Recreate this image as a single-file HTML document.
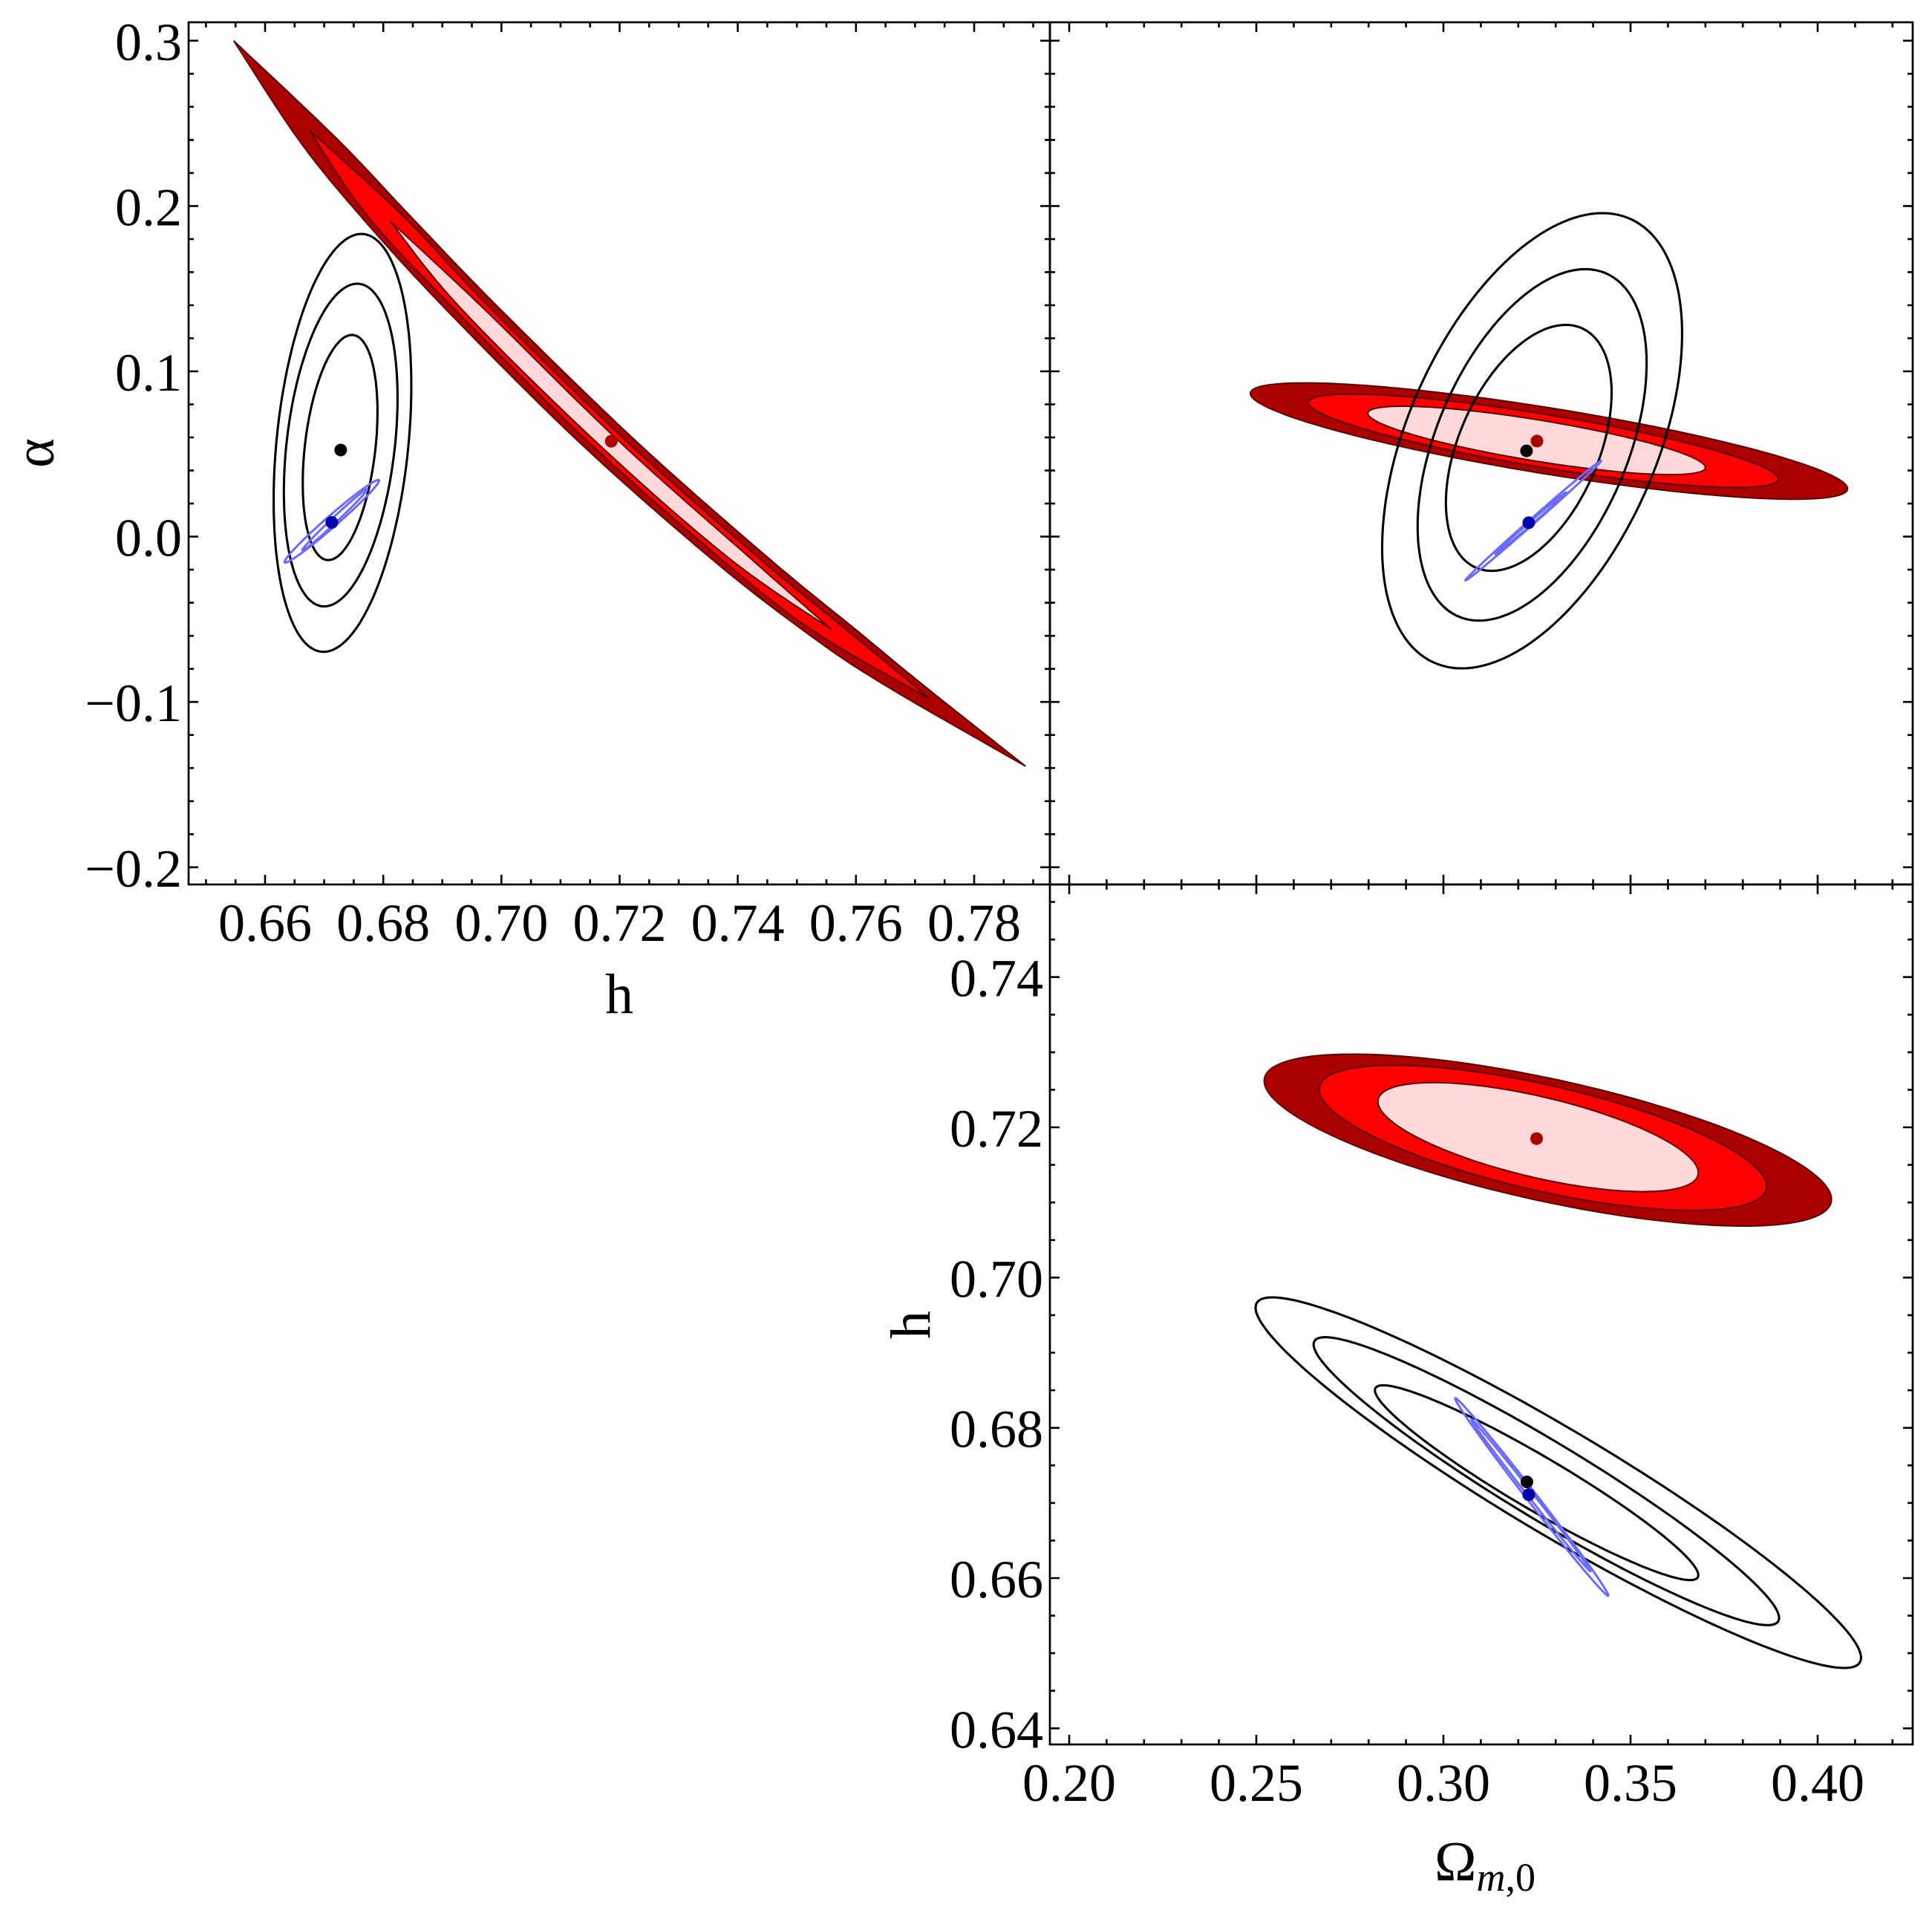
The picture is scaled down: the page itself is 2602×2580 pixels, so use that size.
<!DOCTYPE html>
<html><head><meta charset="utf-8"><style>
html,body{margin:0;padding:0;background:#fff;}
svg{display:block;font-family:"Liberation Serif","DejaVu Serif",serif;}
</style></head><body>
<svg id="fig" xmlns="http://www.w3.org/2000/svg" width="2602" height="2580" viewBox="0 0 2602 2580">
<rect x="0" y="0" width="2602" height="2580" fill="#fff"/>
<defs>
<clipPath id="c1"><rect x="254" y="30" width="1160" height="1161"/></clipPath>
<clipPath id="c2"><rect x="1414" y="30" width="1162" height="1161"/></clipPath>
<clipPath id="c3"><rect x="1414" y="1191" width="1162" height="1158"/></clipPath>
</defs>
<g id="p1"></g>
<g id="p2"></g>
<g id="p3"></g>
<text x="834" y="1364" font-size="76" text-anchor="middle">h</text>
<text transform="translate(72,610) rotate(-90)" font-size="76" text-anchor="middle">α</text>
<text transform="translate(1252,1784) rotate(-90)" font-size="76" text-anchor="middle">h</text>
<text x="1932" y="2532" font-size="76">Ω<tspan font-style="italic" font-size="54" dy="14">m</tspan><tspan font-size="54">,0</tspan></text>
</svg>
<script>
// ---- axis ticks ----
const hTicks = [0.66,0.68,0.70,0.72,0.74,0.76,0.78];
const hTickLabels = ["0.66","0.68","0.70","0.72","0.74","0.76","0.78"];
const alphaTicks = [0.3,0.2,0.1,0.0,-0.1,-0.2];
const alphaTickLabels = ["0.3","0.2","0.1","0.0","\u22120.1","\u22120.2"];
const omTicks = [0.20,0.25,0.30,0.35,0.40];
const omTickLabels = ["0.20","0.25","0.30","0.35","0.40"];
const h3Ticks = [0.74,0.72,0.70,0.68,0.66,0.64];
const h3TickLabels = ["0.74","0.72","0.70","0.68","0.66","0.64"];

// ---- panel 1 (h, alpha) red banana bands: centerline + half width in h ----
const p1OuterH = [0.6547,0.6689,0.6802,0.6948,0.7179,0.7403,0.7560,0.7678,0.7887];
const p1OuterA = [0.2999,0.2405,0.1946,0.1390,0.0577,-0.0130,-0.0578,-0.0890,-0.1389];
const p1OuterW = [0,0.0033,0.0042,0.0046,0.0049,0.0049,0.0045,0.0033,0];
const p1MidH = [0.6675,0.6802,0.6948,0.7179,0.7403,0.7560,0.7725];
const p1MidA = [0.2458,0.1946,0.1390,0.0577,-0.0130,-0.0578,-0.0980];
const p1MidW = [0,0.0030,0.0031,0.0033,0.0033,0.0029,0];
const p1InH = [0.6812,0.6948,0.7179,0.7403,0.7558];
const p1InA = [0.1907,0.1390,0.0577,-0.0130,-0.0560];
const p1InW = [0,0.0019,0.0020,0.0018,0];
// black ellipses: center, conjugate half-axis A, conjugate half-axis B
const p1BlackC = [[0.6731,0.0567],[0.6728,0.0554],[0.6727,0.0539]];
const p1BlackA = [[0.0032,0.1264],[0.0028,0.0976],[0.0020,0.0681]];
const p1BlackB = [[0.0112,0],[0.0092,0],[0.0060,0]];
const p1BlueC = [[0.6713,0.0093],[0.6718,0.0102]];
const p1BlueA = [[0.0080,0.0246],[0.0055,0.0184]];
const p1BlueB = [[0,0.0045],[0,0.0022]];
const p1Dots = [[0.7186,0.0577],[0.6728,0.0524],[0.6713,0.0086]];

// ---- panel 2 (Omega, alpha) ----
const p2RedC = [[0.3282,0.0578],[0.3267,0.0580],[0.3249,0.0582]];
const p2RedA = [[0.0798,-0.0288],[0.0628,-0.0231],[0.0451,-0.0164]];
const p2RedB = [[0,0.0202],[0,0.0162],[0,0.0126]];
const p2BlackC = [[0.3237,0.0580],[0.3237,0.0555],[0.3228,0.0537]];
const p2BlackA = [[0.0188,0.1377],[0.0142,0.1063],[0.0099,0.0744]];
const p2BlackB = [[0.0354,0],[0.0271,0],[0.0198,0]];
const p2BlueC = [[0.3240,0.0097],[0.3233,0.0081]];
const p2BlueA = [[0.0181,0.0362],[0.0094,0.0186]];
const p2BlueB = [[0.0011,0],[0.0006,0]];
const p2Dots = [[0.3250,0.0578],[0.3222,0.0519],[0.3228,0.0084]];

// ---- panel 3 (Omega, h) ----
const p3RedC = [[0.3279,0.7183],[0.3266,0.7186],[0.3253,0.7187]];
const p3RedA = [[0.0758,-0.00788],[0.0598,-0.00645],[0.0428,-0.00473]];
const p3RedB = [[0,0.0083],[0,0.0072],[0,0.0055]];
const p3BlackC = [[0.3307,0.6727],[0.3275,0.6729],[0.3249,0.6727]];
const p3BlackA = [[0.0809,-0.0233],[0.0622,-0.0182],[0.0432,-0.0123]];
const p3BlackB = [[0,0.0081],[0,0.0060],[0,0.0041]];
const p3BlueC = [[0.3236,0.6708],[0.3234,0.6710]];
const p3BlueA = [[0.0204,-0.01315],[0.0159,-0.0101]];
const p3BlueB = [[0.0017,0],[0.0009,0]];
const p3Dots = [[0.3249,0.7185],[0.3223,0.6728],[0.3228,0.6711]];

const NS = "http://www.w3.org/2000/svg";
const hx = v => 357 + (v - 0.66) * 7958;
const ay = v => 54.8 + (0.3 - v) * 2226;
const ox = v => 1440 + (v - 0.2) * 5040;
const hy = v => 1315.7 + (0.74 - v) * 10116;
const FILL = ["#aa0000", "#ff0000", "#ffd9d9"];
const EDGE = "#5a0000";

function mk(tag, parent) { const e = document.createElementNS(NS, tag); parent.appendChild(e); return e; }

function ellipsePath(c, A, B, fx, fy) {
  let d = "";
  for (let i = 0; i <= 160; i++) {
    const t = i / 160 * Math.PI * 2;
    const x = fx(c[0] + A[0] * Math.cos(t) + B[0] * Math.sin(t));
    const y = fy(c[1] + A[1] * Math.cos(t) + B[1] * Math.sin(t));
    d += (i ? "L" : "M") + x.toFixed(1) + " " + y.toFixed(1);
  }
  return d + "Z";
}

function cr(p0, p1, p2, p3, t) {
  return 0.5 * ((2 * p1) + (-p0 + p2) * t + (2 * p0 - 5 * p1 + 4 * p2 - p3) * t * t + (-p0 + 3 * p1 - 3 * p2 + p3) * t * t * t);
}
function bandPath(H, A, W) {
  const n = H.length, pts = [];
  const X = H.map(hx), Y = A.map(ay), Wp = W.map(w => w * 7958);
  const g = (arr, i) => arr[Math.max(0, Math.min(n - 1, i))];
  for (let i = 0; i < n - 1; i++) {
    for (let s = 0; s < 16; s++) {
      const t = s / 16;
      pts.push([cr(g(X,i-1),X[i],X[i+1],g(X,i+2),t), cr(g(Y,i-1),Y[i],Y[i+1],g(Y,i+2),t), Math.max(0, cr(g(Wp,i-1),Wp[i],Wp[i+1],g(Wp,i+2),t))]);
    }
  }
  pts.push([X[n-1], Y[n-1], 0]);
  let d = "";
  pts.forEach((p, i) => { d += (i ? "L" : "M") + (p[0] + p[2]).toFixed(1) + " " + p[1].toFixed(1); });
  for (let i = pts.length - 1; i >= 0; i--) { d += "L" + (pts[i][0] - pts[i][2]).toFixed(1) + " " + pts[i][1].toFixed(1); }
  return d + "Z";
}

function frame(g, x0, y0, x1, y1, xMaj, xMinStep, yMaj, yMinStep, xFn, yFn, xLab, yLab, xl, yl, name) {
  let d = "";
  const vx0 = xFn.inv(x0), vx1 = xFn.inv(x1);
  const lo = Math.min(vx0, vx1), hi = Math.max(vx0, vx1);
  for (let k = Math.ceil(lo / xMinStep - 1e-6); k * xMinStep <= hi + 1e-9; k++) {
    const v = k * xMinStep, px = xFn(v);
    const major = xMaj.some(m => Math.abs(m - v) < 1e-6);
    const L = major ? 13 : 7;
    d += `M${px.toFixed(1)} ${y1}v${-L}M${px.toFixed(1)} ${y0}v${L}`;
  }
  const wy0 = yFn.inv(y0), wy1 = yFn.inv(y1);
  const lo2 = Math.min(wy0, wy1), hi2 = Math.max(wy0, wy1);
  for (let k = Math.ceil(lo2 / yMinStep - 1e-6); k * yMinStep <= hi2 + 1e-9; k++) {
    const v = k * yMinStep, py = yFn(v);
    const major = yMaj.some(m => Math.abs(m - v) < 1e-6);
    const L = major ? 13 : 7;
    d += `M${x0} ${py.toFixed(1)}h${L}M${x1} ${py.toFixed(1)}h${-L}`;
  }
  const t = mk("path", g);
  t.setAttribute("d", d); t.setAttribute("stroke", "#000"); t.setAttribute("stroke-width", "2.6"); t.setAttribute("fill", "none");
  
  
  const r = mk("rect", g);
  r.setAttribute("x", x0); r.setAttribute("y", y0); r.setAttribute("width", x1 - x0); r.setAttribute("height", y1 - y0);
  r.setAttribute("fill", "none"); r.setAttribute("stroke", "#000"); r.setAttribute("stroke-width", "2.7");
  
  
  if (xl) xMaj.forEach((v, i) => {
    const tx = mk("text", g);
    tx.setAttribute("x", xFn(v)); tx.setAttribute("y", y1 + 76); tx.setAttribute("font-size", "72"); tx.setAttribute("text-anchor", "middle");
    tx.textContent = xLab[i];
    
    
  });
  if (yl) yMaj.forEach((v, i) => {
    const tx = mk("text", g);
    tx.setAttribute("x", x0 - 9); tx.setAttribute("y", yFn(v) + 26); tx.setAttribute("font-size", "72"); tx.setAttribute("text-anchor", "end");
    tx.textContent = yLab[i];
    
    
  });
}
hx.inv = p => 0.66 + (p - 357) / 7958;
ay.inv = p => 0.3 - (p - 54.8) / 2226;
ox.inv = p => 0.2 + (p - 1440) / 5040;
hy.inv = p => 0.74 - (p - 1315.7) / 10116;

function drawEllipses(g, C, A, B, fx, fy, kind) {
  C.forEach((c, i) => {
    const p = mk("path", g);
    p.setAttribute("d", ellipsePath(c, A[i], B[i], fx, fy));
    if (kind === "red") { p.setAttribute("fill", FILL[i]); p.setAttribute("stroke", EDGE); p.setAttribute("stroke-width", "2"); }
    else if (kind === "black") { p.setAttribute("fill", "none"); p.setAttribute("stroke", "#000"); p.setAttribute("stroke-width", "3.1"); }
    else { p.setAttribute("fill", "none"); p.setAttribute("stroke", "#6a6aff"); p.setAttribute("stroke-width", "3"); }
    
    
  });
}
function drawDots(g, D, fx, fy) {
  const cols = ["#aa0000", "#000000", "#0000aa"];
  D.forEach((d, i) => {
    const c = mk("circle", g);
    c.setAttribute("cx", fx(d[0])); c.setAttribute("cy", fy(d[1])); c.setAttribute("r", "8.5"); c.setAttribute("fill", cols[i]);
    
    
  });
}

// Panel 1
const g1 = document.getElementById("p1");
const d1 = mk("g", g1); d1.setAttribute("clip-path", "url(#c1)");
[[p1OuterH, p1OuterA, p1OuterW], [p1MidH, p1MidA, p1MidW], [p1InH, p1InA, p1InW]].forEach((b, i) => {
  const p = mk("path", d1);
  p.setAttribute("d", bandPath(b[0], b[1], b[2]));
  p.setAttribute("fill", FILL[i]); p.setAttribute("stroke", EDGE); p.setAttribute("stroke-width", "2");
  
  
});
drawEllipses(d1, p1BlackC, p1BlackA, p1BlackB, hx, ay, "black");
drawEllipses(d1, p1BlueC, p1BlueA, p1BlueB, hx, ay, "blue");
drawDots(d1, p1Dots, hx, ay);
frame(g1, 254, 30, 1414, 1191, hTicks, 0.005, alphaTicks, 0.02, hx, ay, hTickLabels, alphaTickLabels, true, true, "panel1");

// Panel 2
const g2 = document.getElementById("p2");
const d2 = mk("g", g2); d2.setAttribute("clip-path", "url(#c2)");
drawEllipses(d2, p2RedC, p2RedA, p2RedB, ox, ay, "red");
drawEllipses(d2, p2BlackC, p2BlackA, p2BlackB, ox, ay, "black");
drawEllipses(d2, p2BlueC, p2BlueA, p2BlueB, ox, ay, "blue");
drawDots(d2, p2Dots, ox, ay);
frame(g2, 1414, 30, 2576, 1191, omTicks, 0.01, alphaTicks, 0.02, ox, ay, omTickLabels, alphaTickLabels, false, false, "panel2");

// Panel 3
const g3 = document.getElementById("p3");
const d3 = mk("g", g3); d3.setAttribute("clip-path", "url(#c3)");
drawEllipses(d3, p3RedC, p3RedA, p3RedB, ox, hy, "red");
drawEllipses(d3, p3BlackC, p3BlackA, p3BlackB, ox, hy, "black");
drawEllipses(d3, p3BlueC, p3BlueA, p3BlueB, ox, hy, "blue");
drawDots(d3, p3Dots, ox, hy);
frame(g3, 1414, 1191, 2576, 2349, omTicks, 0.01, h3Ticks, 0.005, ox, hy, omTickLabels, h3TickLabels, true, true, "panel3");
</script>
</body></html>
